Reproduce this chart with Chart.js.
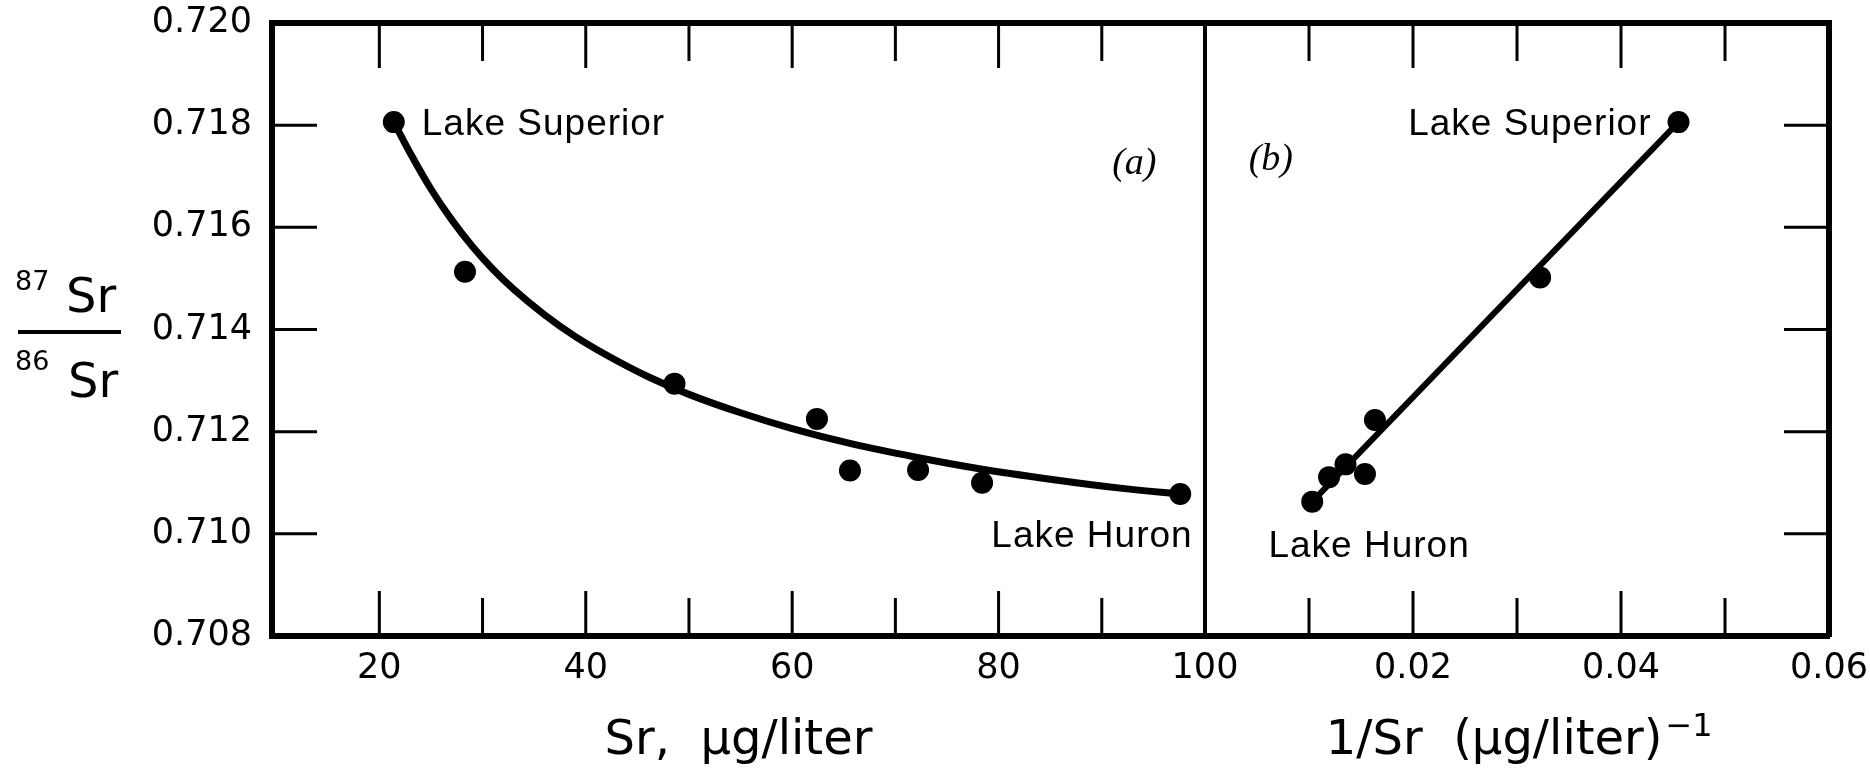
<!DOCTYPE html>
<html><head><meta charset="utf-8">
<script src="https://cdn.jsdelivr.net/npm/chart.js@4.4.1/dist/chart.umd.min.js"></script>
<style>
html,body{margin:0;padding:0;background:#fff;}
#wrap{position:relative;width:1870px;height:776px;background:#fff;overflow:hidden;}
canvas{position:absolute;left:0;top:0;}
</style></head><body>
<div id="wrap"><canvas id="ca" width="1870" height="776"></canvas><canvas id="cb" width="1870" height="776"></canvas></div>
<script>
// ---------------- data ----------------
const yTickValues = [0.708, 0.710, 0.712, 0.714, 0.716, 0.718, 0.720];
const srTickValues = [20, 30, 40, 50, 60, 70, 80, 90, 100];
const srTickLabels = ['20', '', '40', '', '60', '', '80', '', '100'];
const invTickValues = [0.01, 0.02, 0.03, 0.04, 0.05, 0.06];
const invTickLabels = ['', '0.02', '', '0.04', '', '0.06'];

// panel (a): Sr concentration vs 87Sr/86Sr
const srValues = [21.4, 28.3, 48.6, 62.4, 65.6, 72.2, 78.4, 97.6];
const ratioA   = [0.71806, 0.71513, 0.71294, 0.71225, 0.71124, 0.71125, 0.71100, 0.71078];
// mixing curve drawn through panel (a)
const curveSr    = [21.4, 23, 25, 27, 29, 31, 33, 36, 39, 42, 46, 50, 55, 60, 66, 72, 78, 85, 92, 97.6];
const curveRatio = [0.71806, 0.71745, 0.71675, 0.71615, 0.71563, 0.71518, 0.71479, 0.71429, 0.71386, 0.71350,
                    0.71308, 0.71273, 0.71237, 0.71206, 0.71175, 0.71150, 0.71128, 0.71107, 0.71089, 0.71078];

// panel (b): 1/Sr vs 87Sr/86Sr
const invSrValues = [0.04553, 0.03222, 0.01634, 0.01351, 0.01538, 0.01193, 0.01031];
const ratioB      = [0.71806, 0.71502, 0.71223, 0.71136, 0.71117, 0.71111, 0.71063];
// straight mixing line in panel (b)
const lineInvSr = [0.01031, 0.04553];
const lineRatio = [0.71063, 0.71806];

// axis titles
const titleA = 'Sr,  µg/liter';
const titleB = '1/Sr  (µg/liter)';
const titleBExponent = '−1';

// ---------------- layout / style ----------------
const W = 1870, H = 776;
const FRAME_LEFT = 272, DIVIDER = 1205, FRAME_RIGHT = 1829, FRAME_TOP = 23, FRAME_BOTTOM = 636;
const FONT = '"DejaVu Sans", "Liberation Sans", sans-serif';
const LABEL_FONT = '"Liberation Sans", Arial, sans-serif';
const TITLE_SIZE = 48, TITLE_PAD = 6, TITLE_B_TRAIL = '   ';
Chart.defaults.font.family = FONT;
Chart.defaults.color = '#000';

const pts = (xs, ys) => xs.map((x, i) => ({x: x, y: ys[i]}));

function capText(ctx, text, x, y, size, align, italic) {
  ctx.save();
  ctx.fillStyle = '#000';
  if (italic) {
    ctx.font = 'italic ' + size + 'px "Liberation Serif", "DejaVu Serif", serif';
    ctx.textAlign = align; ctx.textBaseline = 'middle';
    ctx.fillText(text, x, y);
  } else {
    ctx.font = size + 'px ' + LABEL_FONT;
    if ('letterSpacing' in ctx) ctx.letterSpacing = '1px';
    ctx.textAlign = align; ctx.textBaseline = 'alphabetic';
    ctx.fillText(text, x, y + size * 0.358);
  }
  ctx.restore();
}

function inwardTicks(chart, xVals, majorX, yVals, ySide) {
  const {ctx, chartArea: a, scales} = chart;
  ctx.save();
  ctx.strokeStyle = '#000';
  ctx.lineWidth = 3;
  ctx.beginPath();
  xVals.forEach(v => {
    const px = scales.x.getPixelForValue(v);
    const len = majorX.includes(v) ? 45 : 38;
    ctx.moveTo(px, a.bottom); ctx.lineTo(px, a.bottom - len);
    ctx.moveTo(px, a.top); ctx.lineTo(px, a.top + len);
  });
  yVals.forEach(v => {
    const py = scales.y.getPixelForValue(v);
    if (ySide === 'left') { ctx.moveTo(a.left, py); ctx.lineTo(a.left + 45, py); }
    else { ctx.moveTo(a.right, py); ctx.lineTo(a.right - 45, py); }
  });
  ctx.stroke();
  // top frame line
  ctx.lineWidth = 6;
  ctx.beginPath();
  ctx.moveTo(a.left - 3, a.top); ctx.lineTo(a.right + 3, a.top);
  ctx.stroke();
  ctx.restore();
}

const framePluginA = {
  id: 'frameA',
  afterDraw(chart) {
    const {ctx, chartArea: a, scales} = chart;
    inwardTicks(chart, [20, 30, 40, 50, 60, 70, 80, 90], [20, 40, 60, 80], [0.710, 0.712, 0.714, 0.716, 0.718], 'left');
    // divider between panels
    ctx.save();
    ctx.strokeStyle = '#000'; ctx.lineWidth = 4;
    ctx.beginPath(); ctx.moveTo(a.right, a.top); ctx.lineTo(a.right, a.bottom); ctx.stroke();
    ctx.restore();
    const X = v => scales.x.getPixelForValue(v), Y = v => scales.y.getPixelForValue(v);
    capText(ctx, 'Lake Superior', X(srValues[0]) + 28, Y(0.71806), 37, 'left');
    capText(ctx, 'Lake Huron', X(98.8), Y(0.71000), 37, 'right');
    capText(ctx, '(a)', X(95.3), Y(0.71724), 38, 'right', true);
    // y-axis title: 87Sr / 86Sr
    ctx.save();
    ctx.fillStyle = '#000'; ctx.textAlign = 'left'; ctx.textBaseline = 'alphabetic';
    ctx.font = '27px ' + FONT; ctx.fillText('87', 15, 290);
    ctx.font = '48px ' + FONT; ctx.fillText('Sr', 66, 312);
    ctx.font = '27px ' + FONT; ctx.fillText('86', 15, 370);
    ctx.font = '48px ' + FONT; ctx.fillText('Sr', 68, 397);
    ctx.strokeStyle = '#000'; ctx.lineWidth = 4;
    ctx.beginPath(); ctx.moveTo(18, 332); ctx.lineTo(121, 332); ctx.stroke();
    ctx.restore();
  }
};

const framePluginB = {
  id: 'frameB',
  afterDraw(chart) {
    const {ctx, scales} = chart;
    inwardTicks(chart, [0.01, 0.02, 0.03, 0.04, 0.05], [0.02, 0.04], [0.710, 0.712, 0.714, 0.716, 0.718], 'right');
    const X = v => scales.x.getPixelForValue(v), Y = v => scales.y.getPixelForValue(v);
    capText(ctx, 'Lake Superior', X(invSrValues[0]) - 27, Y(0.71806), 37, 'right');
    capText(ctx, 'Lake Huron', X(0.0061), Y(0.70980), 37, 'left');
    capText(ctx, '(b)', X(0.0042), Y(0.71731), 38, 'left', true);
    // superscript exponent after the x-axis title of panel (b)
    const xs = scales.x;
    ctx.save();
    ctx.font = TITLE_SIZE + 'px ' + FONT;
    const wMain = ctx.measureText(titleB).width;
    const wAll = ctx.measureText(titleB + TITLE_B_TRAIL).width;
    const cx = (xs.left + xs.right) / 2;
    const endX = cx - wAll / 2 + wMain;
    const titleY = xs.bottom - TITLE_PAD - TITLE_SIZE * 1.2 / 2;
    ctx.font = '32px ' + FONT;
    ctx.fillStyle = '#000'; ctx.textAlign = 'left'; ctx.textBaseline = 'alphabetic';
    ctx.fillText(titleBExponent, endX + 3, titleY - 5);
    ctx.restore();
  }
};

const whiteBg = {
  id: 'whiteBg',
  beforeDraw(chart) {
    const ctx = chart.ctx; ctx.save(); ctx.fillStyle = '#fff'; ctx.fillRect(0, 0, chart.width, chart.height); ctx.restore();
  }
};

const tickFont = {size: 35};
const border = {display: true, width: 6, color: '#000'};
const noGrid = {display: false, drawTicks: false};

function yScale(position, showLabels, width) {
  return {
    type: 'linear', position: position, min: 0.708, max: 0.720,
    afterBuildTicks: s => { s.ticks = yTickValues.map(v => ({value: v})); },
    afterFit: s => { s.width = width; s.paddingTop = 0; s.paddingBottom = 0; },
    ticks: {display: showLabels, font: tickFont, color: '#000', padding: 20,
            callback: (v, i) => yTickValues[i].toFixed(3)},
    grid: noGrid, border: border
  };
}

function xScale(min, max, tickVals, tickLabels, title) {
  return {
    type: 'linear', position: 'bottom', min: min, max: max,
    afterBuildTicks: s => { s.ticks = tickVals.map(v => ({value: v})); },
    afterFit: s => { s.height = H - FRAME_BOTTOM; s.paddingLeft = 0; s.paddingRight = 0; },
    ticks: {font: tickFont, color: '#000', padding: 12, autoSkip: false, maxRotation: 0, minRotation: 0,
            callback: (v, i) => tickLabels[i]},
    grid: noGrid, border: border,
    title: {display: true, text: title, color: '#000', font: {size: TITLE_SIZE}, padding: {top: 0, bottom: TITLE_PAD}}
  };
}

const common = {
  responsive: false, animation: false, devicePixelRatio: 1, events: [],
  plugins: {legend: {display: false}, tooltip: {enabled: false}}
};

// ---------------- chart (a) ----------------
new Chart(document.getElementById('ca'), {
  type: 'scatter',
  data: {datasets: [
    {data: pts(srValues, ratioA), pointRadius: 11, pointBackgroundColor: '#000', pointBorderWidth: 0, showLine: false},
    {type: 'line', data: pts(curveSr, curveRatio), borderColor: '#000', borderWidth: 7, pointRadius: 0,
     cubicInterpolationMode: 'monotone', fill: false}
  ]},
  options: Object.assign({}, common, {
    layout: {padding: {left: 0, right: W - DIVIDER, top: FRAME_TOP, bottom: 0}},
    scales: {
      x: xScale(9.6, 100, srTickValues, srTickLabels, titleA),
      y: yScale('left', true, FRAME_LEFT)
    }
  }),
  plugins: [whiteBg, framePluginA]
});

// ---------------- chart (b) ----------------
new Chart(document.getElementById('cb'), {
  type: 'scatter',
  data: {datasets: [
    {data: pts(invSrValues, ratioB), pointRadius: 11, pointBackgroundColor: '#000', pointBorderWidth: 0, showLine: false},
    {type: 'line', data: pts(lineInvSr, lineRatio), borderColor: '#000', borderWidth: 6, pointRadius: 0, fill: false}
  ]},
  options: Object.assign({}, common, {
    layout: {padding: {left: DIVIDER, right: 0, top: FRAME_TOP, bottom: 0}},
    scales: {
      x: xScale(0, 0.06, invTickValues, invTickLabels, titleB + TITLE_B_TRAIL),
      y: yScale('right', false, W - FRAME_RIGHT)
    }
  }),
  plugins: [framePluginB]
});
</script>
</body></html>
